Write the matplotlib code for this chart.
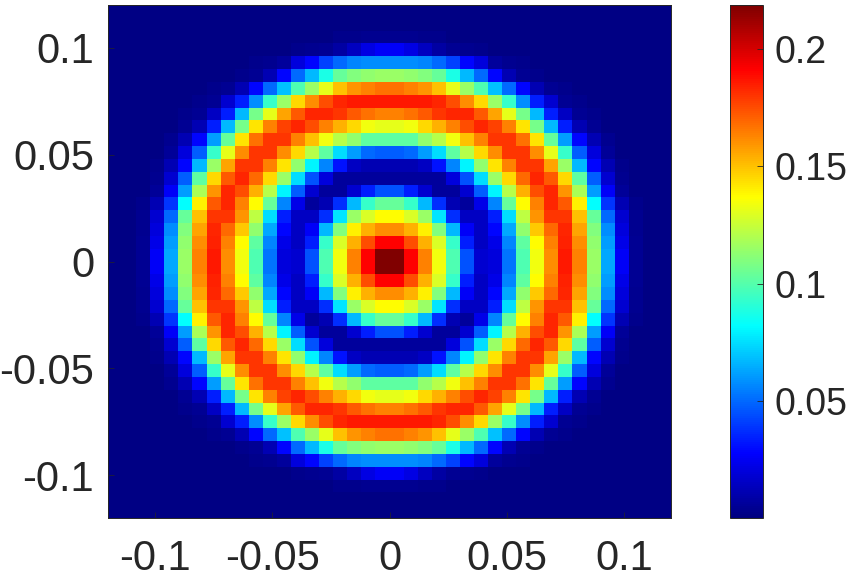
import numpy as np
import matplotlib
matplotlib.use('Agg')
import matplotlib.pyplot as plt
from matplotlib.colors import LinearSegmentedColormap

plt.rcParams['font.family'] = ['Liberation Sans', 'DejaVu Sans']

# Upper-left quarter of the field (the rings are symmetric)
quarter = np.array([
    [.002, .002, .002, .002, .002, .002, .002, .002, .002, .002, .002, .002, .002, .002, .002, .002, .002, .002, .002, .002],
    [.002, .002, .002, .002, .002, .002, .002, .002, .002, .002, .002, .002, .002, .002, .002, .002, .002, .002, .002, .002],
    [.002, .002, .002, .002, .002, .002, .002, .002, .002, .002, .002, .002, .002, .002, .002, .002, .003, .003, .004, .004],
    [.002, .002, .002, .002, .002, .002, .002, .002, .002, .002, .002, .002, .002, .003, .004, .005, .008, .014, .022, .026],
    [.002, .002, .002, .002, .002, .002, .002, .002, .002, .002, .003, .004, .007, .020, .029, .042, .050, .056, .058, .058],
    [.002, .002, .002, .002, .002, .002, .002, .002, .002, .003, .005, .012, .029, .050, .067, .088, .104, .110, .113, .115],
    [.002, .002, .002, .002, .002, .002, .002, .003, .005, .012, .029, .050, .069, .099, .115, .131, .150, .159, .164, .167],
    [.002, .002, .002, .002, .002, .002, .003, .005, .018, .034, .058, .094, .115, .145, .161, .175, .183, .186, .186, .186],
    [.002, .002, .002, .002, .002, .003, .005, .015, .034, .067, .107, .131, .156, .172, .183, .183, .180, .172, .167, .164],
    [.002, .002, .002, .002, .002, .005, .012, .034, .067, .107, .142, .164, .177, .183, .175, .164, .153, .145, .134, .131],
    [.002, .002, .002, .002, .004, .012, .029, .061, .104, .142, .167, .180, .180, .164, .150, .134, .121, .113, .102, .102],
    [.002, .002, .002, .002, .006, .020, .048, .094, .131, .161, .180, .180, .161, .145, .121, .102, .075, .061, .050, .048],
    [.002, .002, .002, .003, .012, .029, .067, .115, .156, .180, .180, .164, .142, .113, .080, .056, .031, .015, .012, .012],
    [.002, .002, .002, .004, .018, .048, .102, .145, .172, .183, .169, .145, .115, .075, .045, .020, .007, .007, .007, .007],
    [.002, .002, .002, .006, .026, .061, .118, .159, .183, .175, .153, .121, .080, .048, .018, .007, .007, .018, .034, .045],
    [.002, .002, .003, .012, .039, .083, .140, .172, .183, .164, .137, .104, .056, .023, .007, .012, .037, .067, .094, .104],
    [.002, .002, .004, .018, .050, .104, .150, .180, .180, .159, .123, .075, .034, .015, .015, .037, .077, .115, .129, .137],
    [.002, .002, .004, .020, .058, .110, .156, .183, .169, .148, .113, .064, .029, .015, .026, .067, .110, .140, .153, .161],
    [.002, .002, .005, .023, .061, .113, .161, .184, .164, .137, .102, .056, .023, .015, .034, .094, .129, .153, .175, .191],
    [.002, .002, .005, .026, .064, .115, .164, .186, .161, .134, .099, .053, .020, .018, .045, .099, .134, .164, .191, .218],
])

ticks = [-0.1, -0.05, 0, 0.05, 0.1]
tick_labels = ['-0.1', '-0.05', '0', '0.05', '0.1']
cbar_ticks = [0.05, 0.1, 0.15, 0.2]
cbar_labels = ['0.05', '0.1', '0.15', '0.2']

# Mirror the quarter to the other three
top = np.hstack([quarter, quarter[:, ::-1]])
field = np.vstack([top, top[::-1]])

# MATLAB style jet
jet_m = LinearSegmentedColormap.from_list('jet_m', [
    (0, (0, 0, 0.5)), (1 / 8, (0, 0, 1)), (3 / 8, (0, 1, 1)),
    (5 / 8, (1, 1, 0)), (7 / 8, (1, 0, 0)), (1, (0.5, 0, 0))], N=256)

W, H = 848, 578
fig = plt.figure(figsize=(W / 100, H / 100), dpi=100)
ax = fig.add_axes([108 / W, 1 - 518 / H, 563 / W, 513 / H])
cax = fig.add_axes([730 / W, 1 - 518 / H, 33 / W, 513 / H])

edges = np.linspace(-0.12, 0.12, field.shape[0] + 1)
mesh = ax.pcolormesh(edges, edges[::-1], field, cmap=jet_m, vmin=0.0003, vmax=0.2186,
                     antialiased=False, rasterized=True)

ink = '#262626'
ax.set_xlim(-0.12, 0.12)
ax.set_ylim(-0.12, 0.12)
ax.set_xticks(ticks, tick_labels)
ax.set_yticks(ticks, tick_labels)
ax.tick_params(direction='in', length=4, width=0.5, color=ink, labelcolor=ink, labelsize=30)
ax.tick_params(axis='x', pad=15)
ax.tick_params(axis='y', pad=10)

cbar = fig.colorbar(mesh, cax=cax)
cbar.set_ticks(cbar_ticks, labels=cbar_labels)
cbar.ax.tick_params(direction='in', length=4.3, width=0.6, color=ink, labelcolor=ink,
                    labelsize=27, pad=8)

for a in (ax, cax):
    for s in a.spines.values():
        s.set_linewidth(0.7)
        s.set_color(ink)

fig.savefig('out.png', dpi=100)
